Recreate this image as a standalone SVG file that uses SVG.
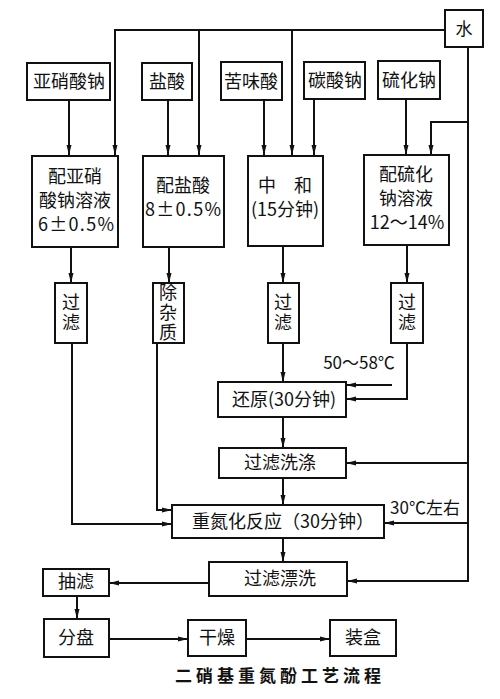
<svg xmlns="http://www.w3.org/2000/svg" width="500" height="699" viewBox="0 0 500 699">
<defs>
<style>
.b{fill:#fff;stroke:#111;stroke-width:2}
.c{fill:none;stroke:#111;stroke-width:2}
.t{font-family:"Noto Sans CJK SC","Liberation Sans",sans-serif;font-size:18px;fill:#111;text-anchor:middle}
.s{font-size:17px}
.v{writing-mode:vertical-rl;letter-spacing:2px}
.cap{font-size:17px;font-weight:bold;letter-spacing:4px}
</style>
<marker id="a" markerUnits="userSpaceOnUse" markerWidth="10" markerHeight="6" refX="10" refY="3" orient="auto">
<path d="M0,0.5 L10,3 L0,5.5 z" fill="#111"/>
</marker>
</defs>
<rect width="500" height="699" fill="#fff"/>
<g id="connectors" class="c" marker-end="url(#a)">
<path d="M445,30 H115 V155"/>
<path d="M199,30 V155"/>
<path d="M292,30 V155"/>
<path d="M69,100 V155"/>
<path d="M168,100 V155"/>
<path d="M264,100 V155"/>
<path d="M314,99 V155"/>
<path d="M406,99 V155"/>
<path d="M468,47 V581 H347"/>
<path d="M468,122 H431 V155"/>
<path d="M468,463 H346"/>
<path d="M468,523 H384"/>
<path d="M71,247 V283"/>
<path d="M72,343 V524 H172"/>
<path d="M169,247 V283"/>
<path d="M157,343 V510 H172"/>
<path d="M283,246 V283"/>
<path d="M283,343 V382"/>
<path d="M407,245 V283"/>
<path d="M407,343 V399 H346"/>
<path d="M392,385 H346"/>
<path d="M283,417 V448"/>
<path d="M283,478 V505"/>
<path d="M283,538 V562"/>
<path d="M209,583 H109"/>
<path d="M77,596 V619"/>
<path d="M109,639 H188"/>
<path d="M246,639 H330"/>
</g>
<g id="water"><rect class="b" x="445" y="10" width="38" height="37"/><text class="t s" x="464" y="35">水</text></g>
<g id="n1"><rect class="b" x="27" y="63" width="83" height="37"/><text class="t" x="69" y="88">亚硝酸钠</text></g>
<g id="n2"><rect class="b" x="142" y="63" width="50" height="37"/><text class="t" x="167" y="88">盐酸</text></g>
<g id="n3"><rect class="b" x="221" y="62" width="61" height="38"/><text class="t" x="251" y="88">苦味酸</text></g>
<g id="n4"><rect class="b" x="304" y="62" width="61" height="37"/><text class="t" x="335" y="87">碳酸钠</text></g>
<g id="n5"><rect class="b" x="378" y="61" width="62" height="38"/><text class="t" x="409" y="87">硫化钠</text></g>
<g id="m1"><rect class="b" x="32" y="156" width="86" height="91"/>
<text class="t" x="75" y="183">配亚硝<tspan x="75" dy="24">酸钠溶液</tspan><tspan x="76" dy="24" textLength="76" lengthAdjust="spacing">6±0.5%</tspan></text></g>
<g id="m2"><rect class="b" x="143" y="156" width="81" height="91"/>
<text class="t" x="183" y="192">配盐酸<tspan x="183" dy="24" textLength="76" lengthAdjust="spacing">8±0.5%</tspan></text></g>
<g id="m3"><rect class="b" x="248" y="156" width="75" height="90"/>
<text class="t" x="285" y="192">中　和<tspan x="285" dy="24">(15分钟)</tspan></text></g>
<g id="m4"><rect class="b" x="364" y="155" width="85" height="90"/>
<text class="t" x="406" y="181">配硫化<tspan x="406" dy="24">钠溶液</tspan><tspan x="407" dy="24">12～14%</tspan></text></g>
<g id="f1"><rect class="b" x="55" y="283" width="32" height="60"/><text class="t v" x="71" y="313">过滤</text></g>
<g id="f2"><rect class="b" x="153" y="283" width="31" height="60"/><text class="t v" x="168" y="313">除杂质</text></g>
<g id="f3"><rect class="b" x="268" y="283" width="31" height="60"/><text class="t v" x="283" y="313">过滤</text></g>
<g id="f4"><rect class="b" x="391" y="283" width="32" height="60"/><text class="t v" x="407" y="313">过滤</text></g>
<text class="t s" x="359" y="369">50～58℃</text>
<g id="r"><rect class="b" x="218" y="382" width="128" height="35"/><text class="t" x="284" y="406">还原(30分钟)</text></g>
<g id="w"><rect class="b" x="219" y="448" width="127" height="30"/><text class="t" x="280" y="469">过滤洗涤</text></g>
<g id="d"><rect class="b" x="172" y="505" width="212" height="33"/><text class="t" x="283" y="528">重氮化反应（30分钟）</text></g>
<text class="t s" x="425" y="514">30℃左右</text>
<g id="p"><rect class="b" x="209" y="562" width="138" height="34"/><text class="t" x="280" y="585">过滤漂洗</text></g>
<g id="cl"><rect class="b" x="43" y="569" width="66" height="27"/><text class="t" x="76" y="588">抽滤</text></g>
<g id="fp"><rect class="b" x="44" y="619" width="65" height="38"/><text class="t" x="76" y="644">分盘</text></g>
<g id="gz"><rect class="b" x="188" y="620" width="58" height="36"/><text class="t" x="217" y="644">干燥</text></g>
<g id="zh"><rect class="b" x="330" y="620" width="66" height="36"/><text class="t" x="363" y="644">装盒</text></g>
<text class="t cap" x="280" y="682">二硝基重氮酚工艺流程</text>
</svg>
